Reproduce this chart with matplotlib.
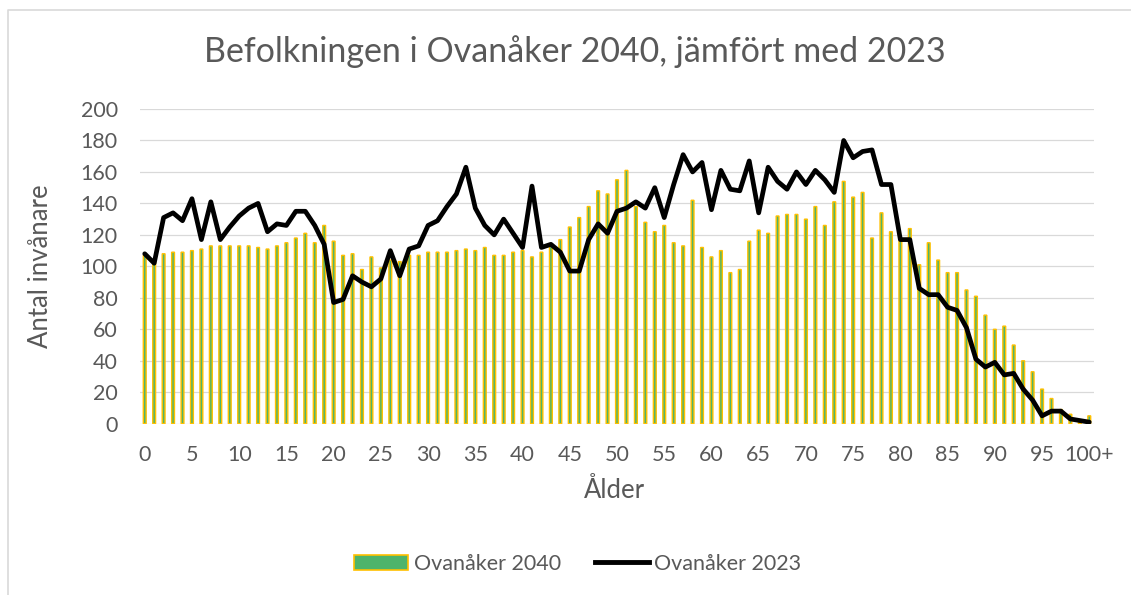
import matplotlib
matplotlib.use("Agg")
import matplotlib.pyplot as plt
from matplotlib.patches import Patch
from matplotlib.lines import Line2D

ages = list(range(101))
tick_positions = list(range(0, 101, 5))
tick_labels = [str(a) for a in range(0, 100, 5)] + ["100+"]

pop_2040 = [107, 104, 108, 109, 109, 110, 111, 113, 113, 113,
            113, 113, 112, 111, 113, 115, 118, 121, 115, 126,
            116, 107, 108, 98, 106, 99, 104, 103, 107, 107,
            109, 109, 109, 110, 111, 110, 112, 107, 107, 109,
            110, 106, 109, 114, 117, 125, 131, 138, 148, 146,
            155, 161, 138, 128, 122, 126, 115, 113, 142, 112,
            106, 110, 96, 98, 116, 123, 121, 132, 133, 133,
            130, 138, 126, 141, 154, 144, 147, 118, 134, 122,
            116, 124, 101, 115, 104, 96, 96, 85, 81, 69,
            60, 62, 50, 40, 33, 22, 16, 9, 6, 2,
            5]

pop_2023 = [108, 102, 131, 134, 129, 143, 117, 141, 117, 125,
            132, 137, 140, 122, 127, 126, 135, 135, 126, 114,
            77, 79, 94, 90, 87, 92, 110, 94, 111, 113,
            126, 129, 138, 146, 163, 137, 126, 120, 130, 121,
            112, 151, 112, 114, 109, 97, 97, 117, 127, 121,
            135, 137, 141, 137, 150, 131, 152, 171, 160, 166,
            136, 161, 149, 148, 167, 134, 163, 154, 149, 160,
            152, 161, 155, 147, 180, 169, 173, 174, 152, 152,
            117, 117, 86, 82, 82, 74, 72, 61, 41, 36,
            39, 31, 32, 22, 15, 5, 8, 8, 3, 2,
            1]

GREEN = "#4EB46B"
GOLD = "#FFC000"
TEXT = "#595959"
GRID = "#D9D9D9"
FONT = ["Lato", "DejaVu Sans"]

plt.rcParams["font.family"] = FONT

W, H = 1131, 595
fig = plt.figure(figsize=(W / 100, H / 100), dpi=100)
fig.patch.set_facecolor("white")

ax = fig.add_axes([140 / W, 1 - 423.7 / H, (1094 - 140) / W, (423.7 - 109) / H])
bars = ax.bar(ages, pop_2040, width=0.3, color=GREEN, edgecolor=GOLD,
              linewidth=1.0, zorder=2)
for b in bars:
    b.set_snap(False)
ax.plot(ages, pop_2023, color="black", linewidth=3.4, solid_joinstyle="round",
        solid_capstyle="round", zorder=3)

ax.set_xlim(-0.5, 100.5)
ax.set_ylim(0, 200)
ax.set_yticks(range(0, 201, 20))
ax.set_xticks(tick_positions)
ax.set_xticklabels(tick_labels)
ax.grid(axis="y", color=GRID, linewidth=0.9, zorder=0)
ax.set_axisbelow(True)
for s in ax.spines.values():
    s.set_visible(False)
ax.tick_params(axis="both", length=0, labelsize=15.5, colors=TEXT)
ax.tick_params(axis="y", pad=16)
ax.tick_params(axis="x", pad=15)

fig.text(575 / W, 1 - 52 / H, "Befolkningen i Ovanåker 2040, jämfört med 2023",
         ha="center", va="center", fontsize=24.5, color=TEXT)
fig.text(41 / W, 1 - 266 / H, "Antal invånare", ha="center", va="center",
         rotation=90, fontsize=18.5, color=TEXT)
fig.text(615 / W, 1 - 491 / H, "Ålder", ha="center", va="center",
         fontsize=18.5, color=TEXT)

handles = [Patch(facecolor=GREEN, edgecolor=GOLD, linewidth=1.2),
           Line2D([0], [0], color="black", linewidth=3.5)]
fig.legend(handles, ["Ovanåker 2040", "Ovanåker 2023"], loc="center",
           bbox_to_anchor=(578 / W, 1 - 564 / H), ncol=2, frameon=False,
           fontsize=15.5, labelcolor=TEXT, handlelength=2.5, handleheight=0.75,
           handletextpad=0.25, columnspacing=1.6)

fig.add_artist(Line2D([7.5 / W, 7.5 / W, 1.0], [0.0, 1 - 9.5 / H, 1 - 9.5 / H],
                      color=GRID, linewidth=1.2, transform=fig.transFigure))

fig.savefig("out.png", dpi=100, facecolor="white")
